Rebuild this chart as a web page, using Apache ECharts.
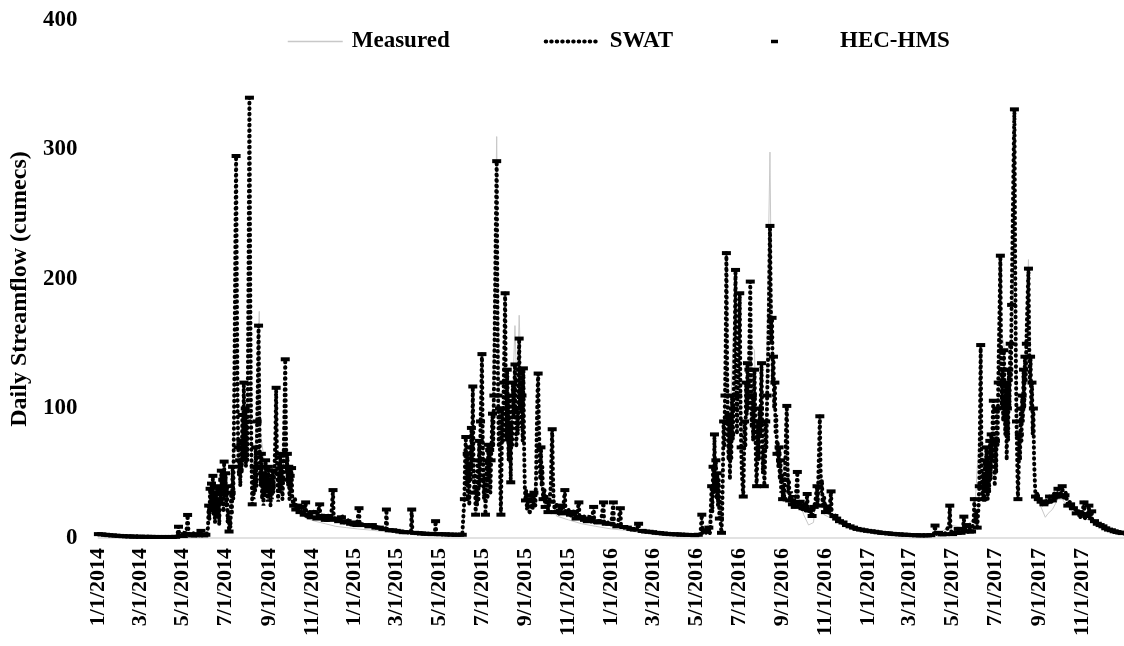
<!DOCTYPE html>
<html><head><meta charset="utf-8">
<script src="https://cdn.jsdelivr.net/npm/echarts@6/dist/echarts.min.js"></script>
<style>html,body{margin:0;padding:0;background:#fff}#chart{width:1124px;height:646px}</style>
</head><body><div id="chart"></div>
<script>
const tickDates = ['2014-01-01','2014-03-01','2014-05-01','2014-07-01','2014-09-01','2014-11-01',
'2015-01-01','2015-03-01','2015-05-01','2015-07-01','2015-09-01','2015-11-01',
'2016-01-01','2016-03-01','2016-05-01','2016-07-01','2016-09-01','2016-11-01',
'2017-01-01','2017-03-01','2017-05-01','2017-07-01','2017-09-01','2017-11-01'];

const measuredData = [
['2014-01-01',2.5],['2014-01-20',1.8],['2014-02-15',1.2],['2014-03-15',0.8],['2014-04-20',0.7],['2014-05-08',5],['2014-05-15',2],['2014-06-01',2],
['2014-06-06',5],['2014-06-10',25],['2014-06-15',30],['2014-06-20',22],['2014-06-25',40],['2014-06-30',35],['2014-07-05',15],['2014-07-10',40],
['2014-07-16',150],['2014-07-20',60],['2014-07-27',100],['2014-08-04',110],['2014-08-08',50],['2014-08-12',65],['2014-08-18',175],['2014-08-20',80],
['2014-08-25',60],['2014-08-30',50],['2014-09-05',45],['2014-09-11',70],['2014-09-15',45],['2014-09-20',50],['2014-09-24',70],['2014-09-28',40],
['2014-10-03',40],['2014-10-08',22],['2014-10-15',18],['2014-10-25',15],['2014-11-05',13],['2014-11-20',11],['2014-12-05',9],['2014-12-20',8],
['2015-01-05',7],['2015-01-25',6],['2015-02-20',4.5],['2015-03-20',3],['2015-04-20',2.5],['2015-05-20',2],['2015-06-04',2],
['2015-06-07',40],['2015-06-10',50],['2015-06-14',45],['2015-06-18',80],['2015-06-22',30],['2015-06-27',50],['2015-07-01',90],['2015-07-06',30],
['2015-07-12',60],['2015-07-16',90],['2015-07-22',310],['2015-07-26',90],['2015-07-29',70],['2015-08-03',120],['2015-08-08',90],['2015-08-12',80],
['2015-08-17',164],['2015-08-20',110],['2015-08-23',172],['2015-08-27',100],['2015-08-31',40],['2015-09-05',28],['2015-09-12',25],['2015-09-19',70],
['2015-09-25',30],['2015-10-01',22],['2015-10-09',45],['2015-10-15',17],['2015-11-01',14],['2015-11-20',11],['2015-12-10',9],
['2016-01-01',7],['2016-01-20',6],['2016-02-15',4],['2016-03-15',3],['2016-04-20',2.2],['2016-05-15',3],['2016-05-22',20],['2016-05-27',60],
['2016-06-01',40],['2016-06-06',10],['2016-06-13',150],['2016-06-18',80],['2016-06-26',207],['2016-07-02',130],['2016-07-07',50],['2016-07-12',110],
['2016-07-17',150],['2016-07-23',145],['2016-07-26',60],['2016-08-02',110],['2016-08-07',60],['2016-08-14',298],['2016-08-16',189],['2016-08-20',110],
['2016-08-25',70],['2016-08-31',45],['2016-09-07',80],['2016-09-12',30],['2016-09-22',35],['2016-10-01',18],['2016-10-08',10],['2016-10-15',12],
['2016-10-24',60],['2016-10-30',18],['2016-11-10',15],['2016-11-25',10],['2016-12-15',6.5],
['2017-01-10',4.5],['2017-02-10',3],['2017-03-10',2],['2017-04-10',2],['2017-04-27',10],['2017-05-17',8],['2017-06-01',15],['2017-06-10',100],
['2017-06-15',40],['2017-06-23',60],['2017-06-28',80],['2017-07-03',70],['2017-07-08',160],['2017-07-13',150],['2017-07-17',70],['2017-07-22',120],
['2017-07-28',240],['2017-08-02',60],['2017-08-08',100],['2017-08-12',130],['2017-08-17',215],['2017-08-22',100],['2017-08-27',35],['2017-09-03',25],
['2017-09-10',16],['2017-09-14',19],['2017-09-20',22],['2017-09-28',30],['2017-10-04',30],['2017-10-15',22],['2017-10-28',17],['2017-11-10',14],
['2017-11-20',11],['2017-12-05',7],['2017-12-20',4.5],['2017-12-31',3]
];

const swatData = [
['2014-01-01',3.0],['2014-01-10',2.5],['2014-01-25',1.8],['2014-02-15',1.2],['2014-03-10',0.9],['2014-04-10',0.8],['2014-04-22',1.0],['2014-04-24',4],
['2014-04-25',8.7],['2014-04-26',3],['2014-04-29',1.5],['2014-05-02',2],['2014-05-04',5],['2014-05-05',2],['2014-05-07',8],['2014-05-08',17.8],
['2014-05-09',7],['2014-05-10',3],['2014-05-14',2],['2014-05-17',4],['2014-05-19',1.8],['2014-05-24',3],['2014-05-27',5.5],['2014-05-28',2],
['2014-06-01',2],['2014-06-04',3],['2014-06-06',8],['2014-06-07',25],['2014-06-08',14],['2014-06-09',38],['2014-06-10',20],['2014-06-11',42],
['2014-06-12',24],['2014-06-13',48],['2014-06-14',18],['2014-06-15',30],['2014-06-16',12],['2014-06-17',35],['2014-06-18',22],['2014-06-19',40],
['2014-06-20',16],['2014-06-21',28],['2014-06-22',10],['2014-06-23',38],['2014-06-24',26],['2014-06-25',52],['2014-06-26',30],['2014-06-27',45],
['2014-06-28',20],['2014-06-29',59],['2014-06-30',32],['2014-07-01',50],['2014-07-02',25],['2014-07-03',40],['2014-07-04',12],['2014-07-05',20],
['2014-07-06',5],['2014-07-07',14],['2014-07-08',8],['2014-07-09',35],['2014-07-10',18],['2014-07-11',55],['2014-07-12',30],['2014-07-13',90],
['2014-07-14',150],['2014-07-15',230],['2014-07-16',295],['2014-07-17',200],['2014-07-18',110],['2014-07-19',70],['2014-07-20',48],['2014-07-21',60],
['2014-07-22',40],['2014-07-23',75],['2014-07-24',50],['2014-07-25',95],['2014-07-26',60],['2014-07-27',120],['2014-07-28',70],['2014-07-29',100],
['2014-07-30',55],['2014-07-31',90],['2014-08-01',60],['2014-08-02',140],['2014-08-03',230],['2014-08-04',340],['2014-08-05',210],['2014-08-06',110],
['2014-08-07',60],['2014-08-08',26],['2014-08-09',45],['2014-08-10',30],['2014-08-11',55],['2014-08-12',35],['2014-08-13',70],['2014-08-14',40],
['2014-08-15',90],['2014-08-16',120],['2014-08-17',164],['2014-08-18',100],['2014-08-19',55],['2014-08-20',40],['2014-08-21',65],['2014-08-22',30],
['2014-08-23',50],['2014-08-24',25],['2014-08-25',45],['2014-08-26',32],['2014-08-27',60],['2014-08-28',35],['2014-08-29',48],['2014-08-30',28],
['2014-08-31',55],['2014-09-01',33],['2014-09-02',45],['2014-09-03',25],['2014-09-04',40],['2014-09-05',30],['2014-09-06',52],['2014-09-07',35],
['2014-09-09',60],['2014-09-10',80],['2014-09-11',116],['2014-09-12',70],['2014-09-13',40],['2014-09-14',28],['2014-09-15',50],['2014-09-16',35],
['2014-09-17',65],['2014-09-18',40],['2014-09-19',55],['2014-09-20',30],['2014-09-21',45],['2014-09-22',70],['2014-09-23',100],['2014-09-24',138],
['2014-09-25',80],['2014-09-26',50],['2014-09-27',65],['2014-09-28',40],['2014-09-29',55],['2014-09-30',30],['2014-10-01',48],['2014-10-02',35],
['2014-10-03',54],['2014-10-04',30],['2014-10-06',25],['2014-10-08',30],['2014-10-09',22],['2014-10-12',25],['2014-10-15',20],['2014-10-18',24],
['2014-10-21',18],['2014-10-23',27.5],['2014-10-24',17],['2014-10-28',20],['2014-11-01',16],['2014-11-05',22],['2014-11-08',15],['2014-11-12',26],
['2014-11-13',15],['2014-11-17',19],['2014-11-21',13],['2014-11-25',18],['2014-11-28',14],['2014-12-01',37],['2014-12-02',15],['2014-12-06',16],
['2014-12-10',12],['2014-12-14',17],['2014-12-17',12],['2014-12-22',14],['2014-12-27',10],['2015-01-01',12],['2015-01-04',10],['2015-01-07',23],
['2015-01-08',10],['2015-01-14',11],['2015-01-20',9],['2015-01-27',10],['2015-02-03',8],['2015-02-10',7],['2015-02-14',6],['2015-02-15',22],
['2015-02-16',6],['2015-02-25',6],['2015-03-05',5],['2015-03-15',4.5],['2015-03-22',4],['2015-03-23',22],['2015-03-24',4],['2015-04-05',3.5],
['2015-04-15',3.2],['2015-04-25',3],['2015-04-26',13],['2015-04-27',3],['2015-05-10',2.8],['2015-05-25',2.5],['2015-06-03',2.5],
['2015-06-05',4],['2015-06-06',30],['2015-06-07',60],['2015-06-08',78],['2015-06-09',40],['2015-06-10',65],['2015-06-11',30],['2015-06-12',55],
['2015-06-13',25],['2015-06-14',70],['2015-06-15',45],['2015-06-16',85],['2015-06-17',60],['2015-06-18',117],['2015-06-19',60],['2015-06-20',35],
['2015-06-21',50],['2015-06-22',18],['2015-06-23',40],['2015-06-24',25],['2015-06-25',60],['2015-06-26',30],['2015-06-27',75],['2015-06-28',40],
['2015-06-29',90],['2015-06-30',110],['2015-07-01',142],['2015-07-02',80],['2015-07-03',45],['2015-07-04',30],['2015-07-05',50],['2015-07-06',18],
['2015-07-07',40],['2015-07-08',60],['2015-07-09',30],['2015-07-10',72],['2015-07-11',45],['2015-07-12',68],['2015-07-13',35],['2015-07-14',60],
['2015-07-15',80],['2015-07-16',96],['2015-07-17',70],['2015-07-18',110],['2015-07-19',150],['2015-07-20',205],['2015-07-21',250],['2015-07-22',291],
['2015-07-23',180],['2015-07-24',110],['2015-07-25',70],['2015-07-26',100],['2015-07-27',45],['2015-07-28',18],['2015-07-29',60],['2015-07-30',100],
['2015-07-31',75],['2015-08-01',120],['2015-08-02',150],['2015-08-03',189],['2015-08-04',110],['2015-08-05',75],['2015-08-06',130],['2015-08-07',90],
['2015-08-08',60],['2015-08-09',110],['2015-08-10',80],['2015-08-11',43],['2015-08-12',90],['2015-08-13',70],['2015-08-14',120],['2015-08-15',95],
['2015-08-16',110],['2015-08-17',134],['2015-08-18',90],['2015-08-19',70],['2015-08-20',100],['2015-08-21',80],['2015-08-22',120],['2015-08-23',154],
['2015-08-24',100],['2015-08-25',130],['2015-08-26',85],['2015-08-27',110],['2015-08-28',75],['2015-08-29',131],['2015-08-30',70],['2015-08-31',40],
['2015-09-01',29],['2015-09-02',37],['2015-09-03',22],['2015-09-05',30],['2015-09-07',18],['2015-09-09',33],['2015-09-11',22],['2015-09-13',35],
['2015-09-15',25],['2015-09-16',45],['2015-09-17',80],['2015-09-18',110],['2015-09-19',127],['2015-09-20',90],['2015-09-21',67],['2015-09-22',45],
['2015-09-23',70],['2015-09-24',40],['2015-09-25',55],['2015-09-26',30],['2015-09-28',38],['2015-09-29',24],['2015-10-01',32],['2015-10-03',20],
['2015-10-05',28],['2015-10-07',40],['2015-10-08',65],['2015-10-09',84],['2015-10-10',50],['2015-10-11',29],['2015-10-13',20],['2015-10-15',27],
['2015-10-18',18],['2015-10-21',25],['2015-10-24',19],['2015-10-27',37],['2015-10-28',20],['2015-11-01',22],['2015-11-05',17],['2015-11-09',21],
['2015-11-12',15],['2015-11-16',27.5],['2015-11-17',15],['2015-11-22',18],['2015-11-26',13],['2015-12-01',17],['2015-12-04',12],['2015-12-07',24],
['2015-12-08',12],['2015-12-13',14],['2015-12-17',11],['2015-12-21',27.5],['2015-12-22',11],['2015-12-28',12],['2016-01-01',10],['2016-01-04',27.5],
['2016-01-05',10],['2016-01-10',9],['2016-01-14',23],['2016-01-15',9],['2016-01-22',8],['2016-01-30',7],['2016-02-06',6],['2016-02-09',11],
['2016-02-10',5.5],['2016-02-20',5],['2016-03-05',4],['2016-03-25',3],['2016-04-15',2.5],['2016-05-01',2.2],['2016-05-07',3],['2016-05-09',18],
['2016-05-10',4],['2016-05-14',6],['2016-05-16',3],['2016-05-19',8],['2016-05-20',3],
['2016-05-21',5],['2016-05-22',25],['2016-05-23',40],['2016-05-24',20],['2016-05-25',55],['2016-05-26',35],['2016-05-27',80],['2016-05-28',45],
['2016-05-29',60],['2016-05-30',30],['2016-05-31',50],['2016-06-01',25],['2016-06-02',45],['2016-06-03',15],['2016-06-04',30],['2016-06-05',10],
['2016-06-06',4],['2016-06-07',20],['2016-06-08',50],['2016-06-09',90],['2016-06-10',70],['2016-06-11',110],['2016-06-12',150],['2016-06-13',220],
['2016-06-14',130],['2016-06-15',90],['2016-06-16',60],['2016-06-17',95],['2016-06-18',45],['2016-06-19',80],['2016-06-20',60],['2016-06-21',110],
['2016-06-22',75],['2016-06-23',100],['2016-06-24',130],['2016-06-25',160],['2016-06-26',207],['2016-06-27',120],['2016-06-28',80],['2016-06-29',110],
['2016-06-30',140],['2016-07-01',160],['2016-07-02',189],['2016-07-03',110],['2016-07-04',70],['2016-07-05',50],['2016-07-06',40],['2016-07-07',32],
['2016-07-08',60],['2016-07-09',90],['2016-07-10',70],['2016-07-11',120],['2016-07-12',95],['2016-07-13',135],['2016-07-14',100],['2016-07-15',130],
['2016-07-16',160],['2016-07-17',198],['2016-07-18',120],['2016-07-19',85],['2016-07-20',110],['2016-07-21',75],['2016-07-22',100],['2016-07-23',130],
['2016-07-24',95],['2016-07-25',60],['2016-07-26',40],['2016-07-27',65],['2016-07-28',90],['2016-07-29',60],['2016-07-30',100],['2016-07-31',80],
['2016-08-01',110],['2016-08-02',135],['2016-08-03',80],['2016-08-04',50],['2016-08-05',70],['2016-08-06',40],['2016-08-07',60],['2016-08-08',90],
['2016-08-09',70],['2016-08-10',110],['2016-08-11',130],['2016-08-12',160],['2016-08-13',200],['2016-08-14',241],['2016-08-15',190],['2016-08-16',150],
['2016-08-17',170],['2016-08-18',120],['2016-08-19',140],['2016-08-20',100],['2016-08-21',120],['2016-08-22',80],['2016-08-23',95],['2016-08-24',65],
['2016-08-25',75],['2016-08-26',55],['2016-08-27',70],['2016-08-28',45],['2016-08-29',60],['2016-08-30',35],['2016-08-31',50],['2016-09-01',30],
['2016-09-02',40],['2016-09-03',29],['2016-09-04',45],['2016-09-05',60],['2016-09-06',85],['2016-09-07',102],['2016-09-08',57],['2016-09-09',35],
['2016-09-10',45],['2016-09-11',29],['2016-09-13',36],['2016-09-15',26],['2016-09-17',33],['2016-09-19',24],['2016-09-22',51],['2016-09-23',25],
['2016-09-26',28],['2016-09-29',22],['2016-10-02',26],['2016-10-04',20],['2016-10-06',34],['2016-10-07',20],['2016-10-10',22],['2016-10-13',17],
['2016-10-16',24],['2016-10-18',30],['2016-10-20',40],['2016-10-21',25],['2016-10-22',50],['2016-10-23',70],['2016-10-24',94],['2016-10-25',55],
['2016-10-26',35],['2016-10-27',45],['2016-10-28',25],['2016-10-30',32],['2016-11-01',20],['2016-11-04',25],['2016-11-06',18],['2016-11-09',36],
['2016-11-10',17],['2016-11-14',18],['2016-11-18',14],['2016-11-24',12],['2016-12-01',10],['2016-12-10',8],['2016-12-20',6.5],['2017-01-01',5.5],
['2017-01-20',4],['2017-02-10',3],['2017-03-05',2.2],['2017-03-25',2],['2017-04-04',2.5],['2017-04-06',9.6],['2017-04-07',3],['2017-04-12',4],
['2017-04-15',2.5],['2017-04-20',3],['2017-04-26',10],['2017-04-27',25],['2017-04-28',8],['2017-04-30',3],['2017-05-05',4],['2017-05-09',7],
['2017-05-11',3],['2017-05-16',8],['2017-05-17',16.5],['2017-05-18',6],['2017-05-21',10],['2017-05-23',4],['2017-05-26',8],['2017-05-28',5],
['2017-05-31',14],['2017-06-01',30],['2017-06-02',12],['2017-06-04',20],['2017-06-05',8],['2017-06-07',25],['2017-06-08',40],['2017-06-09',90],
['2017-06-10',149],['2017-06-11',70],['2017-06-12',40],['2017-06-13',30],['2017-06-14',50],['2017-06-15',28],['2017-06-16',60],['2017-06-17',35],
['2017-06-18',70],['2017-06-19',40],['2017-06-20',30],['2017-06-21',55],['2017-06-22',35],['2017-06-23',75],['2017-06-24',45],['2017-06-25',80],
['2017-06-26',60],['2017-06-27',90],['2017-06-28',106],['2017-06-29',60],['2017-06-30',40],['2017-07-01',75],['2017-07-02',50],['2017-07-03',100],
['2017-07-04',70],['2017-07-05',120],['2017-07-06',150],['2017-07-07',180],['2017-07-08',218],['2017-07-09',140],['2017-07-10',100],['2017-07-11',130],
['2017-07-12',90],['2017-07-13',145],['2017-07-14',110],['2017-07-15',80],['2017-07-16',120],['2017-07-17',60],['2017-07-18',100],['2017-07-19',75],
['2017-07-20',130],['2017-07-21',100],['2017-07-22',150],['2017-07-23',120],['2017-07-24',180],['2017-07-25',220],['2017-07-26',260],['2017-07-27',300],
['2017-07-28',331],['2017-07-29',220],['2017-07-30',140],['2017-07-31',90],['2017-08-01',60],['2017-08-02',30],['2017-08-03',50],['2017-08-04',80],
['2017-08-05',60],['2017-08-06',100],['2017-08-07',75],['2017-08-08',110],['2017-08-09',90],['2017-08-10',130],['2017-08-11',100],['2017-08-12',140],
['2017-08-13',120],['2017-08-14',150],['2017-08-15',170],['2017-08-16',190],['2017-08-17',208],['2017-08-18',150],['2017-08-19',120],['2017-08-20',140],
['2017-08-21',100],['2017-08-22',120],['2017-08-23',80],['2017-08-24',100],['2017-08-25',60],['2017-08-26',45],['2017-08-27',32],['2017-08-29',35],
['2017-09-01',30],['2017-09-04',28],['2017-09-07',25],['2017-09-10',30],['2017-09-13',26],['2017-09-16',32],['2017-09-19',28],['2017-09-22',35],
['2017-09-25',30],['2017-09-28',38],['2017-10-01',32],['2017-10-04',40],['2017-10-06',30],['2017-10-09',35],['2017-10-12',25],['2017-10-15',28],
['2017-10-18',22],['2017-10-21',25],['2017-10-24',19],['2017-10-27',22],['2017-10-30',16],['2017-11-02',20],['2017-11-04',27.5],['2017-11-05',15],
['2017-11-09',18],['2017-11-11',25],['2017-11-12',14],['2017-11-15',20.6],['2017-11-16',12],['2017-11-20',13],['2017-11-25',10],['2017-11-30',9],
['2017-12-06',7],['2017-12-12',6],['2017-12-18',5],['2017-12-24',4],['2017-12-31',3.5]
];

const hecData = [
['2014-01-01',3.0],['2014-01-06',2.8],['2014-01-11',2.5],['2014-01-16',2.2],['2014-01-21',2.0],['2014-01-26',1.8],['2014-01-31',1.6],['2014-02-05',1.4],
['2014-02-10',1.3],['2014-02-15',1.2],['2014-02-20',1.1],['2014-02-25',1.0],['2014-03-02',1.0],['2014-03-07',0.9],['2014-03-12',0.9],['2014-03-17',0.9],
['2014-03-22',0.8],['2014-03-27',0.8],['2014-04-01',0.8],['2014-04-06',0.8],['2014-04-11',0.8],['2014-04-16',0.8],['2014-04-21',0.9],['2014-04-25',8.7],
['2014-04-28',2],['2014-05-02',1.5],['2014-05-05',3],['2014-05-08',17.8],['2014-05-11',3],['2014-05-15',2],['2014-05-19',2],['2014-05-23',3],
['2014-05-27',5.5],['2014-05-31',2],['2014-06-03',2.5],['2014-06-07',25],['2014-06-09',38],['2014-06-11',42],['2014-06-13',48],['2014-06-15',30],
['2014-06-17',35],['2014-06-19',40],['2014-06-21',28],['2014-06-23',38],['2014-06-25',52],['2014-06-27',45],['2014-06-29',59],['2014-07-01',50],
['2014-07-03',40],['2014-07-06',5],['2014-07-09',35],['2014-07-11',55],['2014-07-16',295],['2014-07-19',70],['2014-07-21',60],['2014-07-23',75],
['2014-07-25',95],['2014-07-27',120],['2014-07-29',100],['2014-07-31',90],['2014-08-04',340],['2014-08-08',26],['2014-08-11',55],['2014-08-13',70],
['2014-08-15',90],['2014-08-17',164],['2014-08-19',55],['2014-08-21',65],['2014-08-23',50],['2014-08-25',45],['2014-08-27',60],['2014-08-29',48],
['2014-08-31',55],['2014-09-02',45],['2014-09-04',40],['2014-09-06',52],['2014-09-11',116],['2014-09-15',50],['2014-09-17',65],['2014-09-19',55],
['2014-09-21',45],['2014-09-24',138],['2014-09-27',65],['2014-09-29',55],['2014-10-01',48],['2014-10-03',54],['2014-10-06',25],['2014-10-09',22],
['2014-10-12',25],['2014-10-15',20],['2014-10-18',24],['2014-10-21',18],['2014-10-23',27.5],['2014-10-27',18],['2014-10-31',16],['2014-11-04',20],
['2014-11-08',15],['2014-11-12',26],['2014-11-16',17],['2014-11-20',14],['2014-11-24',17],['2014-11-28',14],['2014-12-01',37],['2014-12-05',15],
['2014-12-09',13],['2014-12-13',16],['2014-12-17',12],['2014-12-21',13],['2014-12-26',11],['2014-12-31',12],['2015-01-04',10],['2015-01-07',23],
['2015-01-11',10],['2015-01-16',10],['2015-01-21',9],['2015-01-26',10],['2015-01-31',8],['2015-02-05',8],['2015-02-10',7],['2015-02-15',22],
['2015-02-19',6],['2015-02-24',6],['2015-03-01',5.5],['2015-03-06',5],['2015-03-11',4.5],['2015-03-16',4.5],['2015-03-23',22],['2015-03-27',4],
['2015-04-01',3.8],['2015-04-06',3.5],['2015-04-11',3.3],['2015-04-16',3.2],['2015-04-21',3],['2015-04-26',13],['2015-04-30',3],['2015-05-05',2.9],
['2015-05-10',2.8],['2015-05-15',2.7],['2015-05-20',2.6],['2015-05-25',2.5],['2015-05-30',2.5],['2015-06-03',2.5],['2015-06-06',30],['2015-06-08',78],
['2015-06-10',65],['2015-06-12',55],['2015-06-14',70],['2015-06-16',85],['2015-06-18',117],['2015-06-20',35],['2015-06-22',18],['2015-06-25',60],
['2015-06-27',75],['2015-06-29',90],['2015-07-01',142],['2015-07-03',45],['2015-07-06',18],['2015-07-08',60],['2015-07-10',72],['2015-07-12',68],
['2015-07-14',60],['2015-07-16',96],['2015-07-18',110],['2015-07-22',291],['2015-07-24',110],['2015-07-26',100],['2015-07-28',18],['2015-07-30',100],
['2015-08-01',120],['2015-08-03',189],['2015-08-06',130],['2015-08-09',110],['2015-08-11',43],['2015-08-14',120],['2015-08-17',134],['2015-08-20',100],
['2015-08-23',154],['2015-08-25',130],['2015-08-27',110],['2015-08-29',131],['2015-09-01',29],['2015-09-05',30],['2015-09-09',33],['2015-09-13',35],
['2015-09-19',127],['2015-09-23',70],['2015-09-26',30],['2015-09-29',24],['2015-10-03',20],['2015-10-05',28],['2015-10-09',84],['2015-10-13',20],
['2015-10-17',20],['2015-10-21',25],['2015-10-24',19],['2015-10-27',37],['2015-10-31',20],['2015-11-04',18],['2015-11-08',20],['2015-11-12',15],
['2015-11-16',27.5],['2015-11-20',16],['2015-11-24',14],['2015-11-28',13],['2015-12-02',15],['2015-12-07',24],['2015-12-11',13],['2015-12-16',12],
['2015-12-21',27.5],['2015-12-25',11],['2015-12-30',11],['2016-01-04',27.5],['2016-01-09',9],['2016-01-14',23],['2016-01-19',8.5],['2016-01-24',8],
['2016-01-29',7],['2016-02-03',6.5],['2016-02-09',11],['2016-02-14',5.5],['2016-02-19',5],['2016-02-24',4.8],['2016-02-29',4.5],['2016-03-05',4],
['2016-03-10',3.8],['2016-03-15',3.5],['2016-03-20',3.2],['2016-03-25',3],['2016-03-30',2.9],['2016-04-04',2.8],['2016-04-09',2.6],['2016-04-14',2.5],
['2016-04-19',2.4],['2016-04-24',2.3],['2016-04-29',2.2],['2016-05-04',2.5],['2016-05-09',18],['2016-05-14',6],['2016-05-19',8],['2016-05-23',40],
['2016-05-25',55],['2016-05-27',80],['2016-05-29',60],['2016-05-31',50],['2016-06-03',15],['2016-06-06',4],['2016-06-09',90],['2016-06-11',110],
['2016-06-13',220],['2016-06-15',90],['2016-06-17',95],['2016-06-19',80],['2016-06-21',110],['2016-06-23',100],['2016-06-26',207],['2016-06-29',110],
['2016-07-02',189],['2016-07-04',70],['2016-07-07',32],['2016-07-09',90],['2016-07-11',120],['2016-07-13',135],['2016-07-15',130],['2016-07-17',198],
['2016-07-20',110],['2016-07-23',130],['2016-07-26',40],['2016-07-28',90],['2016-07-30',100],['2016-08-02',135],['2016-08-06',40],['2016-08-08',90],
['2016-08-10',110],['2016-08-14',241],['2016-08-17',170],['2016-08-19',140],['2016-08-21',120],['2016-08-24',65],['2016-08-27',70],['2016-08-29',60],
['2016-09-01',30],['2016-09-04',45],['2016-09-07',102],['2016-09-11',29],['2016-09-15',26],['2016-09-19',24],['2016-09-22',51],['2016-09-26',28],
['2016-09-30',23],['2016-10-03',24],['2016-10-06',34],['2016-10-10',22],['2016-10-13',17],['2016-10-16',24],['2016-10-20',40],['2016-10-24',94],
['2016-10-28',25],['2016-11-01',20],['2016-11-05',22],['2016-11-09',36],['2016-11-13',17],['2016-11-17',15],['2016-11-21',13],['2016-11-26',12],
['2016-12-01',10],['2016-12-06',9],['2016-12-11',8],['2016-12-16',7],['2016-12-21',6.5],['2016-12-26',6],['2016-12-31',5.5],['2017-01-05',5.2],
['2017-01-10',4.8],['2017-01-15',4.4],['2017-01-20',4],['2017-01-25',3.8],['2017-01-30',3.5],['2017-02-04',3.2],['2017-02-09',3],['2017-02-14',2.8],
['2017-02-19',2.6],['2017-02-24',2.5],['2017-03-01',2.3],['2017-03-06',2.2],['2017-03-11',2.1],['2017-03-16',2],['2017-03-21',2],['2017-03-26',2],
['2017-03-31',2.2],['2017-04-06',9.6],['2017-04-11',4],['2017-04-16',2.8],['2017-04-21',3],['2017-04-27',25],['2017-05-01',3],['2017-05-05',4],
['2017-05-09',7],['2017-05-13',4],['2017-05-17',16.5],['2017-05-21',10],['2017-05-25',5],['2017-05-28',5],['2017-06-01',30],['2017-06-05',8],
['2017-06-08',40],['2017-06-10',149],['2017-06-13',30],['2017-06-16',60],['2017-06-18',70],['2017-06-21',55],['2017-06-23',75],['2017-06-25',80],
['2017-06-28',106],['2017-07-01',75],['2017-07-03',100],['2017-07-05',120],['2017-07-08',218],['2017-07-11',130],['2017-07-13',145],['2017-07-16',120],
['2017-07-18',100],['2017-07-20',130],['2017-07-22',150],['2017-07-24',180],['2017-07-28',331],['2017-07-31',90],['2017-08-02',30],['2017-08-04',80],
['2017-08-06',100],['2017-08-08',110],['2017-08-10',130],['2017-08-12',140],['2017-08-14',150],['2017-08-17',208],['2017-08-20',140],['2017-08-22',120],
['2017-08-24',100],['2017-08-27',32],['2017-08-31',30],['2017-09-04',28],['2017-09-08',26],['2017-09-12',28],['2017-09-16',32],['2017-09-20',29],
['2017-09-24',32],['2017-09-28',38],['2017-10-01',32],['2017-10-04',40],['2017-10-08',33],['2017-10-12',25],['2017-10-16',26],['2017-10-20',23],
['2017-10-24',19],['2017-10-28',20],['2017-11-01',18],['2017-11-04',27.5],['2017-11-08',17],['2017-11-11',25],['2017-11-15',20.6],['2017-11-19',13],
['2017-11-23',11],['2017-11-27',10],['2017-12-01',9],['2017-12-05',7.5],['2017-12-09',6.5],['2017-12-13',6],['2017-12-17',5.2],['2017-12-21',4.6],
['2017-12-25',4.2],['2017-12-29',3.8]
];

const FONT = '"Liberation Serif", "Times New Roman", serif';
const textBase = {fontFamily: FONT, fontWeight: 'bold', color: '#000'};
// dates -> UTC timestamps for a numeric (value) axis
const ts = s => Date.parse(s + 'T00:00:00Z');
const toXY = arr => arr.map(p => [ts(p[0]), p[1]]);
function fmtDate(v) {
  const d = new Date(v);
  return (d.getUTCMonth() + 1) + '/' + d.getUTCDate() + '/' + d.getUTCFullYear();
}
const dotted = {color: '#000', width: 4, type: [0.5, 5], cap: 'round'};

const chart = echarts.init(document.getElementById('chart'), null, {renderer: 'canvas'});
chart.setOption({
  backgroundColor: '#ffffff',
  animation: false,
  legend: [
    {
      left: 287, top: 30, padding: 0, itemWidth: 55, itemHeight: 12, itemGap: 94,
      textStyle: Object.assign({fontSize: 23, padding: [0, 0, 0, 4]}, textBase),
      data: [
        {name: 'Measured', itemStyle: {opacity: 0}, lineStyle: {color: '#c8c8c8', width: 1.5}},
        {name: 'SWAT', itemStyle: {opacity: 0}, lineStyle: dotted}
      ]
    },
    {
      left: 771, top: 30, padding: 0, itemWidth: 7, itemHeight: 3.5,
      textStyle: Object.assign({fontSize: 23, padding: [0, 0, 0, 57]}, textBase),
      data: [{name: 'HEC-HMS', icon: 'rect'}]
    }
  ],
  grid: {left: 97, top: 20, width: 1031, height: 518},
  xAxis: {
    type: 'value', min: ts('2014-01-01'), max: ts('2017-12-31'),
    axisLine: {lineStyle: {color: '#d9d9d9', width: 1.5}},
    axisTick: {show: false},
    splitLine: {show: false},
    axisLabel: Object.assign({customValues: tickDates.map(ts), formatter: fmtDate, rotate: 90, margin: 10, fontSize: 22, hideOverlap: false, showMinLabel: true, showMaxLabel: true}, textBase)
  },
  yAxis: {
    type: 'value', min: 0, max: 400, interval: 100,
    name: 'Daily Streamflow (cumecs)', nameLocation: 'middle', nameGap: 64,
    nameTextStyle: Object.assign({fontSize: 24, padding: [0, 20, 0, 0]}, textBase),
    axisLine: {show: false}, axisTick: {show: false}, splitLine: {show: false},
    axisLabel: Object.assign({margin: 21, fontSize: 23}, textBase)
  },
  series: [
    {name: 'Measured', type: 'line', data: toXY(measuredData), symbol: 'none', z: 1,
     itemStyle: {color: '#c8c8c8'}, lineStyle: {color: '#c8c8c8', width: 1}},
    {name: 'SWAT', type: 'line', data: toXY(swatData), symbol: 'none', z: 2,
     itemStyle: {color: '#000'}, lineStyle: dotted},
    {name: 'HEC-HMS', type: 'line', data: toXY(hecData), symbol: 'rect', symbolSize: [9, 4], showSymbol: true, z: 3,
     itemStyle: {color: '#000'}, lineStyle: {width: 0, opacity: 0}}
  ]
});
</script></body></html>
